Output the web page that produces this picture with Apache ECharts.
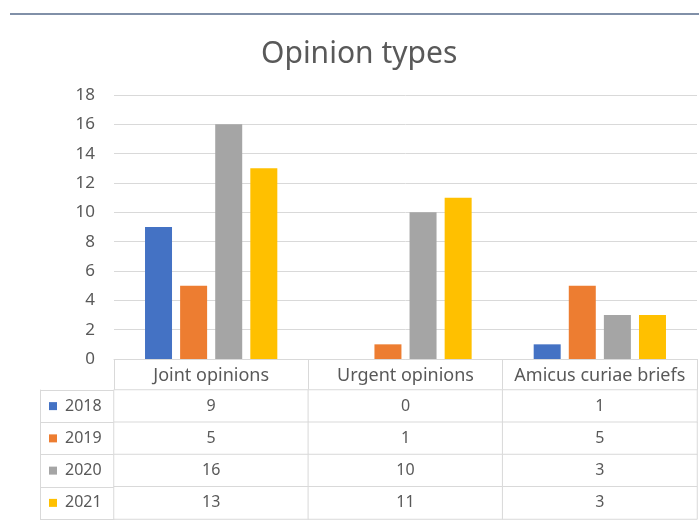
<!DOCTYPE html>
<html>
<head>
<meta charset="utf-8">
<script src="https://cdn.jsdelivr.net/npm/echarts@6/dist/echarts.min.js"></script>
<style>
  html, body { margin: 0; padding: 0; background: #fff; }
  #main { width: 699px; height: 524px; }
</style>
</head>
<body>
<div id="main"></div>
<script>
// data
var categories = ['Joint opinions', 'Urgent opinions', 'Amicus curiae briefs'];
var years = ['2018', '2019', '2020', '2021'];
var v2018 = [9, 0, 1];
var v2019 = [5, 1, 5];
var v2020 = [16, 10, 3];
var v2021 = [13, 11, 3];
var colors = ['#4472C4', '#ED7D31', '#A5A5A5', '#FFC000'];

var chart = echarts.init(document.getElementById('main'));
var font = 'Noto Sans';
var textColor = '#595959';
var lineColor = '#d9d9d9';

var allValues = [v2018, v2019, v2020, v2021];

// bar series
var barSeries = years.map(function (y, i) {
    return {
        name: y,
        type: 'bar',
        xAxisIndex: 0,
        yAxisIndex: 0,
        data: allValues[i],
        barWidth: 27,
        barGap: '30%',
        itemStyle: { color: colors[i] }
    };
});

// data table cells (heatmap)
var tableData = [];
for (var r = 0; r < years.length; r++) {
    for (var c = 0; c < categories.length; c++) {
        tableData.push([c, r, allValues[r][c]]);
    }
}

// legend keys in the table
var rich = {};
years.forEach(function (y, i) {
    rich['k' + i] = { backgroundColor: colors[i], width: 8, height: 8 };
});
rich.t = { fontFamily: font, fontSize: 16, color: textColor, padding: [0, 0, 0, 8] };

var option = {
    animation: false,
    title: {
        text: 'Opinion types',
        left: 256,
        top: 34,
        textStyle: { fontFamily: font, fontSize: 30, fontWeight: 'normal', color: textColor }
    },
    graphic: [{
        type: 'line',
        shape: { x1: 10, y1: 14, x2: 699, y2: 14 },
        style: { stroke: '#8190a8', lineWidth: 2 }
    }],
    grid: [
        { left: 114, right: 2, top: 95, bottom: 165 },
        { left: 114, right: 2, top: 390, bottom: 5 }
    ],
    xAxis: [{
        type: 'category',
        gridIndex: 0,
        data: categories,
        axisLine: { lineStyle: { color: lineColor } },
        axisTick: { show: true, interval: 0, length: 31, lineStyle: { color: lineColor } },
        axisLabel: { interval: 0, fontFamily: font, fontSize: 18, color: textColor, margin: 8 }
    }, {
        type: 'category',
        gridIndex: 1,
        data: categories,
        axisLine: { show: false },
        axisTick: { show: false },
        axisLabel: { show: false }
    }],
    yAxis: [{
        type: 'value',
        gridIndex: 0,
        min: 0,
        max: 18,
        interval: 2,
        axisLine: { show: false },
        axisTick: { show: false },
        splitLine: { lineStyle: { color: lineColor } },
        axisLabel: { fontFamily: font, fontSize: 17, color: textColor, margin: 19 }
    }, {
        type: 'category',
        gridIndex: 1,
        data: years,
        inverse: true,
        axisLine: { lineStyle: { color: lineColor } },
        axisTick: { show: true, length: 74, lineStyle: { color: lineColor } },
        axisLabel: {
            margin: 65,
            align: 'left',
            formatter: function (val, idx) {
                return '{k' + idx + '|}{t|' + val + '}';
            },
            rich: rich
        }
    }, {
        type: 'category',
        gridIndex: 1,
        data: years,
        position: 'left',
        offset: 74,
        axisLine: { lineStyle: { color: lineColor } },
        axisTick: { show: false },
        axisLabel: { show: false }
    }],
    series: barSeries.concat([{
        type: 'heatmap',
        xAxisIndex: 1,
        yAxisIndex: 1,
        data: tableData,
        itemStyle: { color: '#ffffff', borderColor: lineColor, borderWidth: 1 },
        label: { show: true, fontFamily: font, fontSize: 16, color: textColor,
            formatter: function (p) { return p.value[2]; } },
        emphasis: { disabled: true }
    }])
};

chart.setOption(option);
</script>
</body>
</html>
